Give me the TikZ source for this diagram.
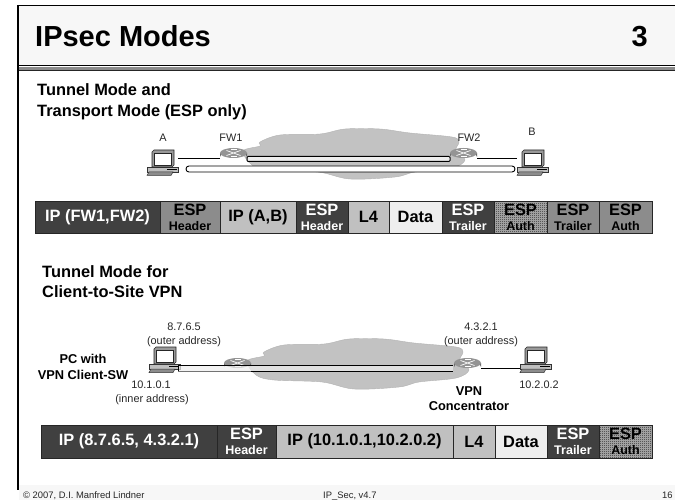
\documentclass[tikz,border=0pt]{standalone}
\usepackage{fontspec}
\setmainfont{Liberation Sans}
\usetikzlibrary{patterns}
\definecolor{cdark}{HTML}{404040}
\definecolor{cmid}{HTML}{8C8C8C}
\definecolor{clight}{HTML}{C0C0C0}
\definecolor{cdata}{HTML}{EEEEEE}
\definecolor{chead}{HTML}{F7F7F7}
\definecolor{cloudc}{HTML}{C2C2C2}
\pgfdeclarepatternformonly{fineck}{\pgfqpoint{0pt}{0pt}}{\pgfqpoint{2pt}{2pt}}{\pgfqpoint{2pt}{2pt}}{%
  \pgfpathrectangle{\pgfqpoint{0pt}{0pt}}{\pgfqpoint{1pt}{1pt}}%
  \pgfpathrectangle{\pgfqpoint{1pt}{1pt}}{\pgfqpoint{1pt}{1pt}}%
  \pgfusepath{fill}}
\newcommand{\fsz}[1]{\fontsize{#1}{15}\selectfont}
\newcommand{\seg}[7]{%
  \pgfmathsetmacro\segw{#3-#2}%
  \pgfmathsetmacro\segh{#5-#4}%
  \pgfmathsetmacro\segx{(#3+#2)/2}%
  \pgfmathsetmacro\segy{(#5+#4)/2}%
  \node[segbox,#6,minimum width=\segw pt,minimum height=\segh pt] (#1) at (\segx,\segy) {#7};}
\newcommand{\twoline}[1]{{\fsz{16.4}ESP}\\{\fsz{12.5}#1}}
\tikzset{
  segbox/.style={draw=black!85,line width=.8pt,inner sep=0pt,outer sep=0pt,align=center,font=\bfseries\fsz{16.4}},
  darkseg/.style={fill=cdark,text=white},
  midseg/.style={fill=cmid,text=black},
  lightseg/.style={fill=clight,text=black},
  dataseg/.style={fill=cdata,text=black},
  checkseg/.style={preaction={fill=black!30},pattern=fineck,pattern color=black!85,text=black},
  smalltext/.style={inner sep=0pt,anchor=base,font=\fsz{10.9},text=black!85},
  boldtext/.style={inner sep=0pt,anchor=base,font=\bfseries\fsz{12.8}},
  headtext/.style={inner sep=0pt,anchor=base west,font=\bfseries\fsz{16.4}},
  foottext/.style={inner sep=0pt,anchor=base west,font=\fsz{9.4},text=black!85},
  pcpic/.pic={
    \draw[black!80,fill=black!25,line width=.5pt] (-5,17) -- (26,17) -- (26,22) -- (-5,22) -- cycle;
    \draw[black!80,fill=black!45,line width=.5pt] (-5,25.5) -- (19,25.5) -- (21,22) -- (-3,22) -- cycle;
    \draw[black!85,fill=black!40,line width=.6pt] (0,2) -- (2,0) -- (22,0) -- (22,15) -- (20,17) -- (0,17) -- cycle;
    \fill[white] (2,3) rectangle (19,15);
    \draw[black!85,line width=.6pt] (2,3) rectangle (19,15);
    \draw[black,line width=.9pt] (15,19.8) -- (25,19.8);
  },
  routerpic/.pic={
    \fill[black!62] (-13.5,0) -- (-13.5,4) arc[start angle=180,end angle=360,x radius=13.5,y radius=5.5] -- (13.5,0) -- cycle;
    \fill[black!42] (0,0) ellipse[x radius=13.5,y radius=5];
    \draw[white,line width=.7pt] (-7,-2.5) -- (7,2.5) (-7,2.5) -- (7,-2.5);
    \draw[white,line width=.7pt] (-3,-3.2) -- (3,-3.2) (-3,3.2) -- (3,3.2);
  },
  cloudpic/.pic={
    \draw[fill=cloudc,draw=black!30,line width=.4pt]
      plot[smooth cycle,tension=.55] coordinates {(243,151) (260,146) (260,142) (280,135) (320,134)
        (345,129) (380,129) (410,133) (452,137) (459,142) (456,150) (465,160) (452,168)
        (415,172) (395,177) (350,179) (318,172) (270,170) (252,165)};
  }
}
\begin{document}
\begin{tikzpicture}[x=1pt,y=-1pt,line cap=butt]
\useasboundingbox (0,0) rectangle (675,500);
% frame
\fill[chead] (18,5) rectangle (675,66);
\fill[chead] (19,485) rectangle (675,500);
\fill[black!45] (18,67) rectangle (675,70.5);
\draw[black,line width=1.4pt] (18,5.5) -- (675,5.5);
\draw[black,line width=1pt] (18,66) -- (675,66);
\draw[black!85,line width=1pt] (18,71) -- (675,71);
\draw[black,line width=1.3pt] (18,5) -- (18,490);
% titles
\node[inner sep=0pt,anchor=base west,font=\bfseries\fsz{29}] (title) at (35,47) {IPsec Modes};
\node[inner sep=0pt,anchor=base east,font=\bfseries\fsz{29}] (num) at (648,47) {3};
\node[headtext] (h1a) at (37,96) {Tunnel Mode and};
\node[headtext] (h1b) at (37,117) {Transport Mode (ESP only)};
\node[headtext] (h2a) at (42,277) {Tunnel Mode for};
\node[headtext] (h2b) at (42,297) {Client-to-Site VPN};
% network 1
\pic at (0,0) {cloudpic};
\coordinate (a1) at (178,158.5);
\coordinate (fw1w) at (220,158.5);
\coordinate (fw2e) at (477,158.5);
\coordinate (b1) at (517,158.5);
\pic at (152,150) {pcpic};
\pic at (522,150) {pcpic};
\draw[black,line width=.9pt] (a1) -- (fw1w) (fw2e) -- (b1);
\pic at (233.5,153) {routerpic};
\pic at (463.5,153) {routerpic};
\draw[black,line width=.9pt,fill=white,rounded corners=2.9pt] (186,166) rectangle (515,172);
\draw[black,line width=1pt,fill=cdata,rounded corners=1pt] (247,156.5) rectangle (450,161.5);
\node[smalltext] (lA) at (163,142) {A};
\node[smalltext] (lF1) at (231,142) {FW1};
\node[smalltext] (lF2) at (469,142) {FW2};
\node[smalltext] (lB) at (532,136) {B};
% bar 1
\seg{s1}{35}{160}{201.5}{233}{darkseg}{IP (FW1,FW2)}
\seg{s2}{160}{220}{201.5}{233}{midseg}{\twoline{Header}}
\seg{s3}{220}{296}{201.5}{233}{lightseg}{IP (A,B)}
\seg{s4}{296}{348}{201.5}{233}{darkseg}{\twoline{Header}}
\seg{s5}{348}{389}{201.5}{233}{lightseg}{L4}
\seg{s6}{389}{442}{201.5}{233}{dataseg}{Data}
\seg{s7}{442}{494}{201.5}{233}{darkseg}{\twoline{Trailer}}
\seg{s8}{494}{547}{201.5}{233}{checkseg}{\twoline{Auth}}
\seg{s9}{547}{599}{201.5}{233}{midseg}{\twoline{Trailer}}
\seg{s10}{599}{652}{201.5}{233}{midseg}{\twoline{Auth}}
% network 2
\begin{scope}[shift={(4,210)}]
\pic at (0,0) {cloudpic};
\end{scope}
\coordinate (v1) at (481,368);
\coordinate (pc2) at (520,368);
\pic at (154,347) {pcpic};
\pic at (525,347) {pcpic};
\draw[black,line width=.9pt] (v1) -- (pc2);
\pic at (237.5,363) {routerpic};
\pic at (467.5,363) {routerpic};
\fill[cdata,opacity=.7] (178,365) rectangle (453,371);
\draw[black,line width=.9pt] (178,365) -- (453,365);
\draw[black!55,line width=.9pt] (178,371) -- (251,371);
\draw[black,line width=.9pt] (251,371) -- (453,371);
\draw[black,line width=.9pt] (178,365) -- (178,371);
\node[smalltext] (l1) at (184,330) {8.7.6.5};
\node[smalltext] (l2) at (184,344) {(outer address)};
\node[boldtext] (l3) at (83,363) {PC with};
\node[boldtext] (l4) at (83,379) {VPN Client-SW};
\node[smalltext] (l5) at (151,388) {10.1.0.1};
\node[smalltext] (l6) at (152,402) {(inner address)};
\node[smalltext] (l7) at (481,330) {4.3.2.1};
\node[smalltext] (l8) at (481,344) {(outer address)};
\node[smalltext] (l9) at (539,388) {10.2.0.2};
\node[boldtext] (l10) at (469,395) {VPN};
\node[boldtext] (l11) at (469,410) {Concentrator};
% bar 2
\seg{t1}{41}{217}{425}{458}{darkseg}{IP (8.7.6.5, 4.3.2.1)}
\seg{t2}{217}{276}{425}{458}{darkseg}{\twoline{Header}}
\seg{t3}{276}{453}{425}{458}{lightseg}{IP (10.1.0.1,10.2.0.2)}
\seg{t4}{453}{495}{425}{458}{lightseg}{L4}
\seg{t5}{495}{547}{425}{458}{dataseg}{Data}
\seg{t6}{547}{599}{425}{458}{darkseg}{\twoline{Trailer}}
\seg{t7}{599}{652}{425}{458}{checkseg}{\twoline{Auth}}
% footer
\node[foottext] (f1) at (23,498) {© 2007, D.I. Manfred Lindner};
\node[foottext] (f2) at (323,498) {IP\_Sec, v4.7};
\node[foottext] (f3) at (662,498) {16};
\end{tikzpicture}
\end{document}
